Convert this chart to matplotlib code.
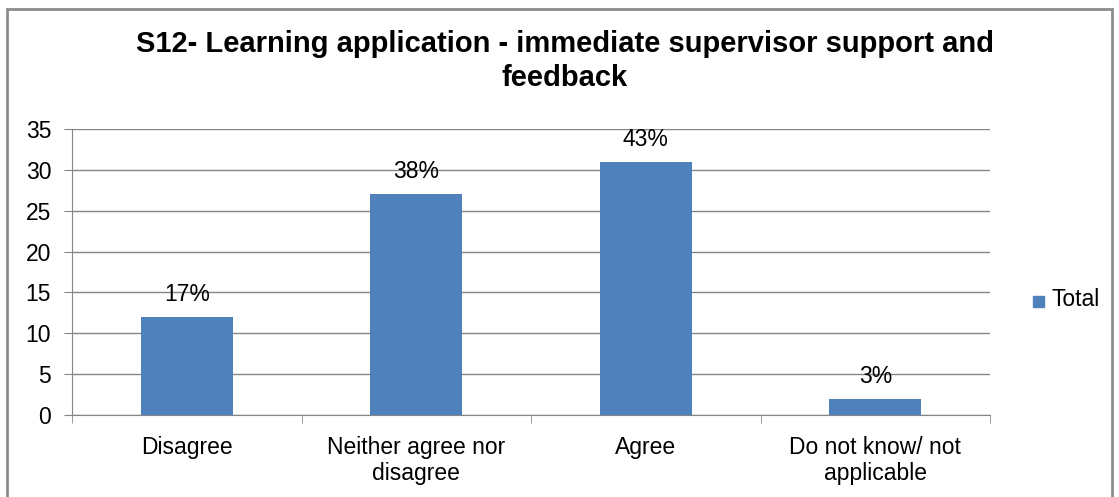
import matplotlib.pyplot as plt
import matplotlib.ticker as ticker
from matplotlib.patches import Rectangle
from matplotlib import rcParams

categories = ["Disagree", "Neither agree nor\ndisagree", "Agree", "Do not know/ not\napplicable"]
counts = [12, 27, 31, 2]
pct_labels = ["17%", "38%", "43%", "3%"]

rcParams.update({
    "font.family": ["Liberation Sans", "DejaVu Sans"],
    "font.size": 16.5,
})

grid_col = "#868686"
bar_col = "#4F81BD"

fig = plt.figure(figsize=[11.19, 4.97], dpi=100)
W, H = 1119, 497
# plot area in pixels: left 72, right 990, top 129 (y=35), bottom 415 (y=0)
ax = fig.add_axes([72 / W, 1 - 415 / H, (990 - 72) / W, (415 - 129) / H])

x = list(range(len(categories)))
ax.bar(x, counts, width=0.4, color=bar_col, zorder=3)
for xi, c, lab in zip(x, counts, pct_labels):
    ax.annotate(lab, (xi, c), xytext=(0, 8), textcoords="offset points",
                ha="center", va="bottom", fontsize=16.5, zorder=4)

ax.set_xlim(-0.5, len(categories) - 0.5)
ax.set_ylim(0, 35)
ax.yaxis.set_major_locator(ticker.MultipleLocator(5))
ax.yaxis.grid(True, color=grid_col, linewidth=1, zorder=0)

ax.set_xticks(x)
ax.set_xticklabels(categories, fontsize=16.5, linespacing=1.2)
ax.xaxis.set_minor_locator(ticker.FixedLocator([i + 0.5 for i in range(-1, len(categories))]))
ax.tick_params(axis="x", which="major", length=0, pad=15)
ax.tick_params(axis="x", which="minor", length=6, color=grid_col, direction="out")
ax.tick_params(axis="y", length=6, color=grid_col, pad=9, labelsize=16.5)

for side in ["top", "right"]:
    ax.spines[side].set_visible(False)
ax.spines["left"].set_color(grid_col)
ax.spines["bottom"].set_color(grid_col)

fig.text(565 / W, 1 - 61 / H,
         "S12- Learning application - immediate supervisor support and\nfeedback",
         ha="center", va="center", fontsize=21, fontweight="bold", linespacing=1.3)

# legend entry
fig.patches.append(Rectangle((1033 / W, 1 - 307 / H), 11 / W, 11 / H,
                             transform=fig.transFigure, color=bar_col))
fig.text(1051 / W, 1 - 300 / H, "Total", ha="left", va="center", fontsize=16.5)

# outer chart border
fig.patches.append(Rectangle((7 / W, -0.05), (1112 - 7) / W, 1.05 - 9 / H,
                             transform=fig.transFigure, fill=False,
                             edgecolor="#8c8c8c", linewidth=2))

plt.savefig("out.png", dpi=100)
